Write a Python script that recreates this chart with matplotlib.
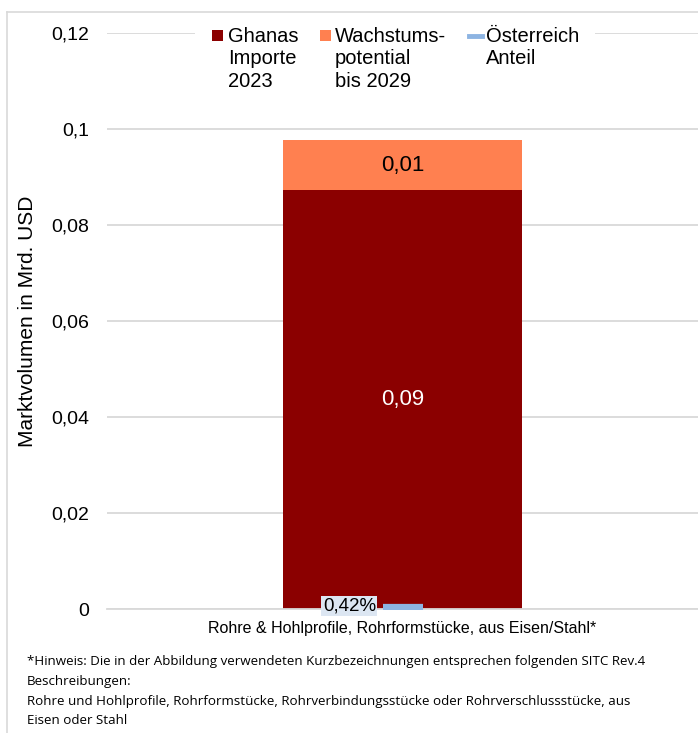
import matplotlib.pyplot as plt
from matplotlib.lines import Line2D
from matplotlib.patches import Rectangle

plt.rcParams['font.family'] = ['Liberation Sans', 'DejaVu Sans']

category = ['Rohre & Hohlprofile, Rohrformstücke, aus Eisen/Stahl*']
imports_2023 = [0.0872]
growth_2029 = [0.0106]
austria_share = [0.0042]  # share of imports
import_labels = ['0,09']
growth_labels = ['0,01']
share_labels = ['0,42%']
yticks = [0, 0.02, 0.04, 0.06, 0.08, 0.1, 0.12]
ytick_labels = ['0', '0,02', '0,04', '0,06', '0,08', '0,1', '0,12']
legend_labels = ['Ghanas\nImporte\n2023', 'Wachstums-\npotential\nbis 2029', 'Österreich\nAnteil']
footnote = ["*Hinweis: Die in der Abbildung verwendeten Kurzbezeichnungen entsprechen folgenden SITC Rev.4",
            "Beschreibungen:",
            "Rohre und Hohlprofile, Rohrformstücke, Rohrverbindungsstücke oder Rohrverschlussstücke, aus",
            "Eisen oder Stahl"]

dark_red = '#8B0000'
orange = '#FF8050'
blue = '#8DB4E2'
grid_col = '#D9D9D9'

W, H = 698, 733
fig = plt.figure(figsize=(W / 100, H / 100), dpi=100)
ax = fig.add_axes([107 / W, 1 - 609 / H, 591 / W, 576 / H])

x = [0]
ax.bar(x, imports_2023, width=0.404, color=dark_red, zorder=2)
ax.bar(x, growth_2029, bottom=imports_2023, width=0.404, color=orange, zorder=2)

for i in range(len(x)):
    ax.text(x[i], imports_2023[i] / 2, import_labels[i], ha='center', va='center',
            color='white', fontsize=16, zorder=3)
    ax.text(x[i], imports_2023[i] + growth_2029[i] / 2, growth_labels[i], ha='center',
            va='center', color='black', fontsize=16, zorder=3)

# Austria share as a short line marker
aut_vals = [imports_2023[i] * austria_share[i] for i in range(len(x))]
ax.plot(x, aut_vals, linestyle='none', marker='_', markersize=29, markeredgewidth=4.5,
        color=blue, zorder=4)
for i in range(len(x)):
    ax.text(x[i] - 0.045, aut_vals[i] + 0.0002, share_labels[i], ha='right', va='center',
            fontsize=13.5, zorder=5,
            bbox=dict(facecolor='#DCE6F2', edgecolor='none', pad=1.0))

ax.set_xlim(-0.5, 0.5)
ax.set_ylim(0, 0.12)
ax.set_yticks(yticks)
ax.set_yticklabels(ytick_labels, fontsize=14)
ax.set_xticks(x)
ax.set_xticklabels(category, fontsize=11.5)
ax.tick_params(axis='x', length=0, pad=9)
ax.tick_params(axis='y', length=0, pad=13)
ax.yaxis.grid(True, color=grid_col, linewidth=1.3, zorder=0)
ax.set_axisbelow(True)
for s in ['top', 'right', 'left']:
    ax.spines[s].set_visible(False)
ax.spines['bottom'].set_color(grid_col)
ax.spines['bottom'].set_linewidth(1.3)
ax.set_ylabel('Marktvolumen in Mrd. USD', fontsize=15, labelpad=10)

# legend, drawn by hand so the keys sit on the first text line
fig.add_artist(Rectangle((195 / W, 1 - 46 / H), 400 / W, 24 / H, facecolor='white',
                         edgecolor='none', zorder=1))
fig.add_artist(Rectangle((212 / W, 1 - 41 / H), 11 / W, 11 / H, facecolor=dark_red,
                         edgecolor='none', zorder=2))
fig.add_artist(Rectangle((320 / W, 1 - 41 / H), 11 / W, 11 / H, facecolor=orange,
                         edgecolor='none', zorder=2))
fig.add_artist(Line2D([469 / W, 482 / W], [1 - 35.5 / H, 1 - 35.5 / H], color=blue,
                      linewidth=3.5, zorder=2))
for lx, lab in zip([228, 335, 486], legend_labels):
    fig.text(lx / W, 1 - 26.5 / H, lab, fontsize=14.5, va='top', ha='left',
             linespacing=1.26, zorder=3)

fy = 661
for line in footnote:
    fig.text(27 / W, 1 - fy / H, line, fontsize=9.6, family=['Open Sans', 'DejaVu Sans'],
             va='center', ha='left')
    fy += 20

# outer chart border (left and top)
fig.add_artist(Line2D([7 / W, 7 / W], [0, 1 - 12 / H], color=grid_col, linewidth=1.2))
fig.add_artist(Line2D([7 / W, 1], [1 - 12 / H, 1 - 12 / H], color=grid_col, linewidth=1.2))

fig.savefig('out.png', dpi=100)
